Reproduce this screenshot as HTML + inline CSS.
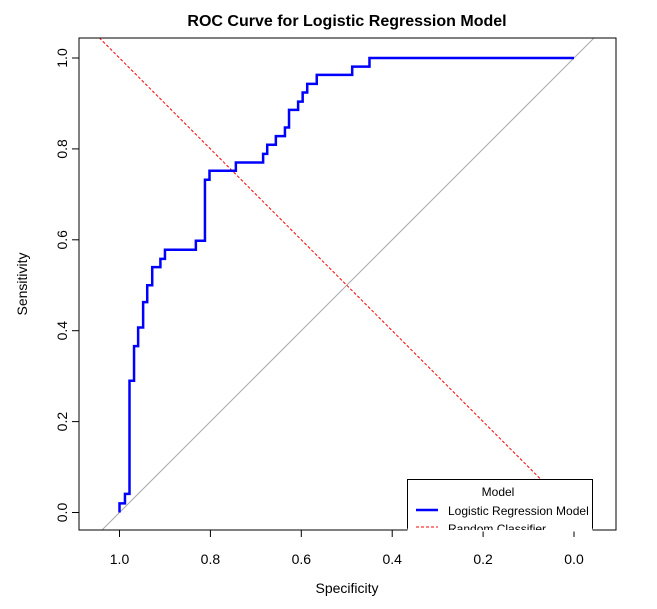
<!DOCTYPE html>
<html><head><meta charset="utf-8"><style>
body{margin:0;background:#fff}
svg{display:block;font-family:"Liberation Sans",Arial,sans-serif}
</style></head><body>
<svg id="chart" width="657" height="609" viewBox="0 0 657 609" xmlns="http://www.w3.org/2000/svg">
<defs><clipPath id="plotclip"><rect x="79" y="38" width="537" height="492"/></clipPath></defs>
<rect width="657" height="609" fill="#fff"/>
<text x="347" y="26" text-anchor="middle" font-size="16" font-weight="bold">ROC Curve for Logistic Regression Model</text>
<g id="marks" clip-path="url(#plotclip)"></g>
<rect x="79" y="38" width="537" height="492" fill="none" stroke="#000" stroke-width="1"/>
<g id="axes"></g>
<text x="347" y="593" text-anchor="middle" font-size="14">Specificity</text>
<text transform="translate(27,284) rotate(-90)" text-anchor="middle" font-size="14">Sensitivity</text>
<g>
<path d="M407.5,530 V479.5 H592.5 V530" fill="#fff" stroke="#000" stroke-width="1"/>
<rect x="407.5" y="528.5" width="185" height="3" fill="#fff"/>
<g clip-path="url(#plotclip)">
<text x="498" y="496" text-anchor="middle" font-size="12">Model</text>
<line x1="416" y1="510" x2="438" y2="510" stroke="#0000ff" stroke-width="2.5"/>
<text x="448" y="515" font-size="12">Logistic Regression Model</text>
<line x1="416" y1="527" x2="438" y2="527" stroke="#ff0000" stroke-width="1" stroke-dasharray="3,2"/>
<text x="448" y="533" font-size="12">Random Classifier</text>
</g>
</g>
</svg>
<script>
const specs=[1.0,0.988,0.978,0.968,0.959,0.948,0.939,0.928,0.910,0.900,0.832,0.812,0.802,0.744,0.684,0.675,0.656,0.636,0.627,0.607,0.597,0.587,0.566,0.488,0.450,0.0];
const sens=[0.02,0.041,0.29,0.366,0.407,0.463,0.5,0.54,0.558,0.578,0.598,0.732,0.752,0.77,0.789,0.809,0.828,0.847,0.886,0.904,0.924,0.943,0.963,0.981,1.0,1.0];
const xTicks=[1.0,0.8,0.6,0.4,0.2,0.0];
const yTicks=[0.0,0.2,0.4,0.6,0.8,1.0];
const xs=v=>574-v*454.5;
const ys=v=>512.5-v*454.5;
const NS="http://www.w3.org/2000/svg";
const marks=document.getElementById('marks'),axes=document.getElementById('axes');
function mk(tag,attrs,parent){const e=document.createElementNS(NS,tag);for(const k in attrs)e.setAttribute(k,attrs[k]);parent.appendChild(e);return e;}
let g=mk('line',{x1:xs(1.2),y1:ys(-0.2),x2:xs(-0.2),y2:ys(1.2),stroke:'#aaa','stroke-width':1},marks);


let r=mk('line',{x1:xs(1.2),y1:ys(1.2),x2:xs(-0.2),y2:ys(-0.2),stroke:'#ff0000','stroke-width':1,'stroke-dasharray':'3,2'},marks);


let d='M'+xs(specs[0])+','+ys(0);
for(let i=0;i<specs.length;i++){d+=' L'+xs(specs[i])+','+ys(sens[i]);if(i+1<specs.length)d+=' L'+xs(specs[i+1])+','+ys(sens[i]);}
let p=mk('path',{d:d,fill:'none',stroke:'#0000ff','stroke-width':2.5},marks);


xTicks.forEach(v=>{mk('line',{x1:xs(v),y1:530,x2:xs(v),y2:537,stroke:'#000'},axes);
const t=mk('text',{x:xs(v),y:564,'text-anchor':'middle','font-size':14},axes);t.textContent=v.toFixed(1);

});
yTicks.forEach(v=>{mk('line',{x1:72,y1:ys(v),x2:79,y2:ys(v),stroke:'#000'},axes);
const t=mk('text',{transform:'translate(67,'+ys(v)+') rotate(-90)','text-anchor':'middle','font-size':14},axes);t.textContent=v.toFixed(1);

});
</script>
</body></html>
